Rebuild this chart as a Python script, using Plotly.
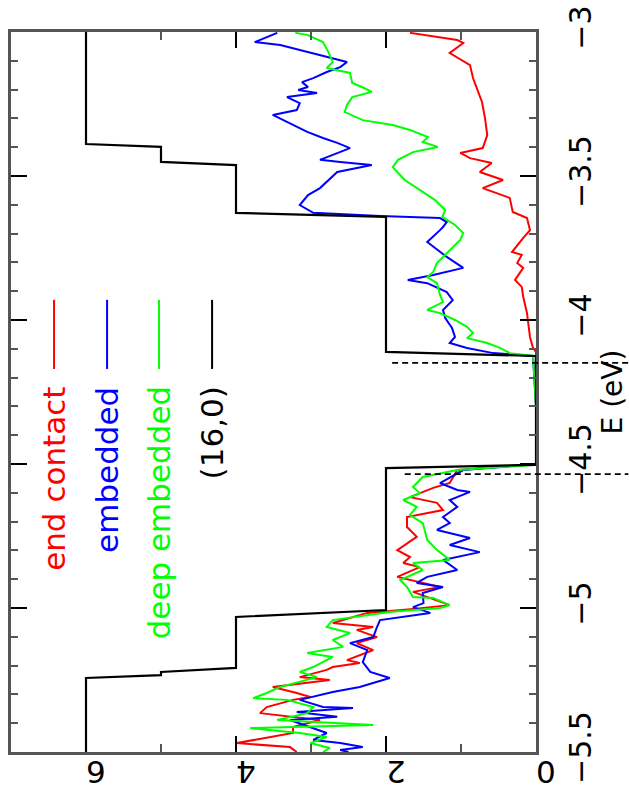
import plotly.graph_objects as go

# ---------------- data (E in eV, T transmission) ----------------
red_E = [-3.003, -3.028, -3.038, -3.073, -3.115, -3.160, -3.243, -3.299, -3.358, -3.403,
         -3.420, -3.438, -3.455, -3.486, -3.514, -3.542, -3.576, -3.625, -3.646, -3.688,
         -3.715, -3.764, -3.774, -3.802, -3.819, -3.861, -3.885, -3.920, -3.976, -4.059,
         -4.097, -4.111, -4.300, -4.500,
         -4.521, -4.566, -4.583, -4.615, -4.635, -4.660, -4.684, -4.719, -4.753, -4.799,
         -4.823, -4.844, -4.858, -4.892, -4.927, -4.944, -4.990, -5.003, -5.017, -5.031,
         -5.052, -5.066, -5.076, -5.101, -5.122, -5.146, -5.181, -5.191, -5.205, -5.215,
         -5.240, -5.250, -5.274, -5.295, -5.309, -5.319, -5.344, -5.365, -5.378, -5.389,
         -5.413, -5.434, -5.469, -5.483, -5.500]
red_T = [1.68, 1.05, 0.97, 1.15, 0.88, 0.84, 0.72, 0.68, 0.65, 0.71,
         1.01, 0.88, 0.59, 0.75, 0.44, 0.71, 0.35, 0.31, 0.12, 0.08,
         0.17, 0.32, 0.19, 0.25, 0.17, 0.28, 0.19, 0.17, 0.12, 0.08,
         0.04, 0.00, 0.00, 0.00,
         1.05, 1.15, 1.37, 1.68, 1.32, 1.24, 1.72, 1.72, 1.59, 1.85,
         1.68, 1.77, 1.55, 1.85, 1.28, 1.64, 1.15, 1.60, 2.25, 2.44,
         2.71, 2.17, 2.39, 2.12, 2.39, 2.17, 2.52, 2.35, 2.71, 2.79,
         3.15, 2.75, 3.51, 3.19, 3.01, 3.24, 3.59, 3.68, 3.28, 2.88,
         3.24, 3.24, 3.99, 3.28, 3.19]

blue_E = [-3.003, -3.035, -3.045, -3.087, -3.104, -3.122, -3.139, -3.160, -3.174, -3.191,
          -3.201, -3.212, -3.226, -3.247, -3.271, -3.288, -3.323, -3.347, -3.368, -3.385,
          -3.403, -3.444, -3.451, -3.462, -3.486, -3.542, -3.566, -3.601, -3.628, -3.639,
          -3.646, -3.660, -3.677, -3.688, -3.729, -3.781, -3.819, -3.844, -3.861, -3.872,
          -3.903, -3.931, -3.965, -3.993, -4.028, -4.059, -4.080, -4.097, -4.115, -4.125,
          -4.300, -4.500,
          -4.521, -4.566, -4.590, -4.597, -4.625, -4.649, -4.684, -4.705, -4.729, -4.757,
          -4.781, -4.806, -4.833, -4.868, -4.892, -4.913, -4.927, -4.948, -4.983, -4.997,
          -5.017, -5.031, -5.042, -5.066, -5.101, -5.122, -5.146, -5.188, -5.222, -5.243,
          -5.274, -5.292, -5.319, -5.344, -5.347, -5.361, -5.378, -5.389, -5.413, -5.434,
          -5.458, -5.469, -5.483, -5.493, -5.500]
blue_T = [3.45, 3.75, 3.41, 2.75, 2.52, 2.61, 2.79, 2.97, 3.12, 3.04,
          3.17, 2.92, 3.32, 3.15, 3.19, 3.51, 3.24, 3.05, 2.84, 2.65,
          2.48, 2.88, 2.61, 2.19, 2.65, 2.88, 3.04, 3.15, 2.97, 2.08,
          1.28, 1.19, 1.24, 1.28, 1.45, 1.19, 0.97, 1.37, 1.71, 1.45,
          1.19, 1.11, 1.24, 1.21, 1.12, 1.08, 1.15, 0.92, 0.57, 0.04,
          0.00, 0.00,
          0.97, 1.28, 1.05, 0.88, 1.15, 1.05, 1.24, 1.15, 1.32, 0.88,
          1.15, 0.75, 1.24, 1.05, 1.45, 1.59, 1.24, 1.51, 1.50, 1.64,
          1.41, 1.81, 2.08, 2.12, 2.17, 2.48, 2.25, 2.31, 2.21, 1.95,
          2.35, 2.71, 3.15, 2.84, 2.44, 3.19, 2.65, 3.28, 3.01, 2.79,
          2.97, 2.61, 2.31, 2.61, 2.50]

green_E = [-3.003, -3.010, -3.035, -3.069, -3.104, -3.125, -3.142, -3.177, -3.191, -3.208,
           -3.226, -3.253, -3.278, -3.306, -3.323, -3.340, -3.365, -3.382, -3.399, -3.417,
           -3.444, -3.469, -3.514, -3.549, -3.583, -3.618, -3.642, -3.670, -3.698, -3.722,
           -3.767, -3.802, -3.833, -3.851, -3.872, -3.913, -3.938, -3.965, -3.976, -4.000,
           -4.024, -4.045, -4.063, -4.080, -4.097, -4.115, -4.125, -4.300, -4.503,
           -4.521, -4.545, -4.580, -4.601, -4.625, -4.649, -4.677, -4.705, -4.764, -4.799,
           -4.833, -4.844, -4.868, -4.903, -4.927, -4.962, -4.965, -4.990, -5.000, -5.014,
           -5.042, -5.066, -5.087, -5.111, -5.135, -5.156, -5.170, -5.205, -5.222, -5.240,
           -5.274, -5.295, -5.313, -5.319, -5.344, -5.365, -5.389, -5.406, -5.417, -5.434,
           -5.448, -5.469, -5.486, -5.500]
green_T = [3.21, 3.05, 2.84, 2.77, 2.71, 2.79, 2.48, 2.45, 2.32, 2.19,
           2.45, 2.52, 2.55, 2.31, 1.91, 1.68, 1.44, 1.51, 1.31, 1.64,
           1.84, 1.91, 1.75, 1.55, 1.35, 1.21, 1.25, 1.08, 0.97, 1.01,
           1.19, 1.32, 1.37, 1.45, 1.32, 1.28, 1.24, 1.45, 1.28, 1.08,
           0.92, 0.84, 0.92, 0.65, 0.48, 0.35, 0.04, 0.00, 0.00,
           1.05, 1.51, 1.64, 1.55, 1.77, 1.59, 1.68, 1.51, 1.45, 1.32,
           1.15, 1.64, 1.51, 1.81, 1.72, 1.64, 1.37, 1.15, 1.28, 1.95,
           2.71, 2.79, 2.48, 2.71, 2.57, 3.05, 2.71, 2.97, 3.15, 2.92,
           3.41, 3.59, 3.77, 3.32, 2.97, 3.05, 3.45, 2.17, 3.81, 3.15,
           2.79, 3.01, 2.75, 2.84]

tube_E = [-3.000, -3.389, -3.399, -3.451, -3.462, -3.628, -3.642, -4.111, -4.125,
          -4.503, -4.514, -5.007, -5.031, -5.208, -5.222, -5.233, -5.243, -5.500]
tube_T = [6, 6, 5, 5, 4, 4, 2, 2, 0,
          0, 2, 2, 4, 4, 5, 5, 6, 6]

gap_edges = [-4.149, -4.535]

series_names = ["end contact", "embedded", "deep embedded", "(16,0)"]
series_colors = ["#ff0000", "#0000ff", "#00ff00", "#000000"]

E_ticks = [-5.5, -5.0, -4.5, -4.0, -3.5, -3.0]
E_ticklabels = ["\u22125.5", "\u22125", "\u22124.5", "\u22124", "\u22123.5", "\u22123"]
T_ticks = [0, 2, 4, 6]
T_ticklabels = ["0", "2", "4", "6"]

# ---------------- figure ----------------
FONT = "DejaVu Sans"
fig = go.Figure()
curves = [(red_E, red_T), (blue_E, blue_T), (green_E, green_T), (tube_E, tube_T)]
for (E, T), name, col in zip(curves, series_names, series_colors):
    fig.add_trace(go.Scatter(x=T, y=E, mode="lines", name=name,
                             line=dict(color=col, width=2 if col != "#000000" else 2.2),
                             showlegend=False))

# dashed gap markers, extending past the right frame
for e, x0 in zip(gap_edges, [0.726, 0.750]):
    fig.add_shape(type="line", xref="paper", yref="y", x0=x0, x1=1.176, y0=e, y1=e,
                  line=dict(color="black", width=1.6, dash="6px,4px"), layer="above")

# rotated legend
leg_x = [0.082, 0.183, 0.282, 0.383]
for name, col, lx in zip(series_names, series_colors, leg_x):
    fig.add_shape(type="line", xref="paper", yref="paper", x0=lx, x1=lx, y0=0.532, y1=0.628,
                  line=dict(color=col, width=2))
    fig.add_annotation(xref="paper", yref="paper", x=lx, y=0.510, text=name,
                       textangle=-90, showarrow=False, xanchor="center", yanchor="top",
                       font=dict(family=FONT, size=31, color=col))

fig.update_layout(
    width=629, height=800,
    margin=dict(l=11, r=93, t=32, b=48, autoexpand=False),
    paper_bgcolor="white", plot_bgcolor="white",
    showlegend=False,
    font=dict(family=FONT, size=30, color="black"),
)
fig.update_xaxes(range=[7, 0], tickvals=T_ticks, ticktext=T_ticklabels, tickangle=180,
                 automargin=False,
                 ticks="inside", ticklen=16, tickwidth=2, tickcolor="black",
                 showline=True, linecolor="#555", linewidth=2.5, mirror="allticks",
                 showgrid=False, zeroline=False,
                 minor=dict(dtick=1, ticks="inside", ticklen=8, tickwidth=2, tickcolor="#555"),
                 tickfont=dict(family=FONT, size=31))
fig.update_yaxes(range=[-5.5, -3], side="right", tickvals=E_ticks, ticktext=E_ticklabels,
                 tickangle=-90, ticklabelstandoff=16, automargin=False,
                 ticks="inside", ticklen=16, tickwidth=2, tickcolor="black",
                 showline=True, linecolor="#555", linewidth=2.5, mirror="allticks",
                 showgrid=False, zeroline=False,
                 minor=dict(dtick=0.1, tick0=-3, ticks="inside", ticklen=7, tickwidth=2, tickcolor="#555"),
                 tickfont=dict(family=FONT, size=30),
                 title=dict(text="E (eV)", font=dict(family=FONT, size=28), standoff=10))

fig.write_html("out.html")
